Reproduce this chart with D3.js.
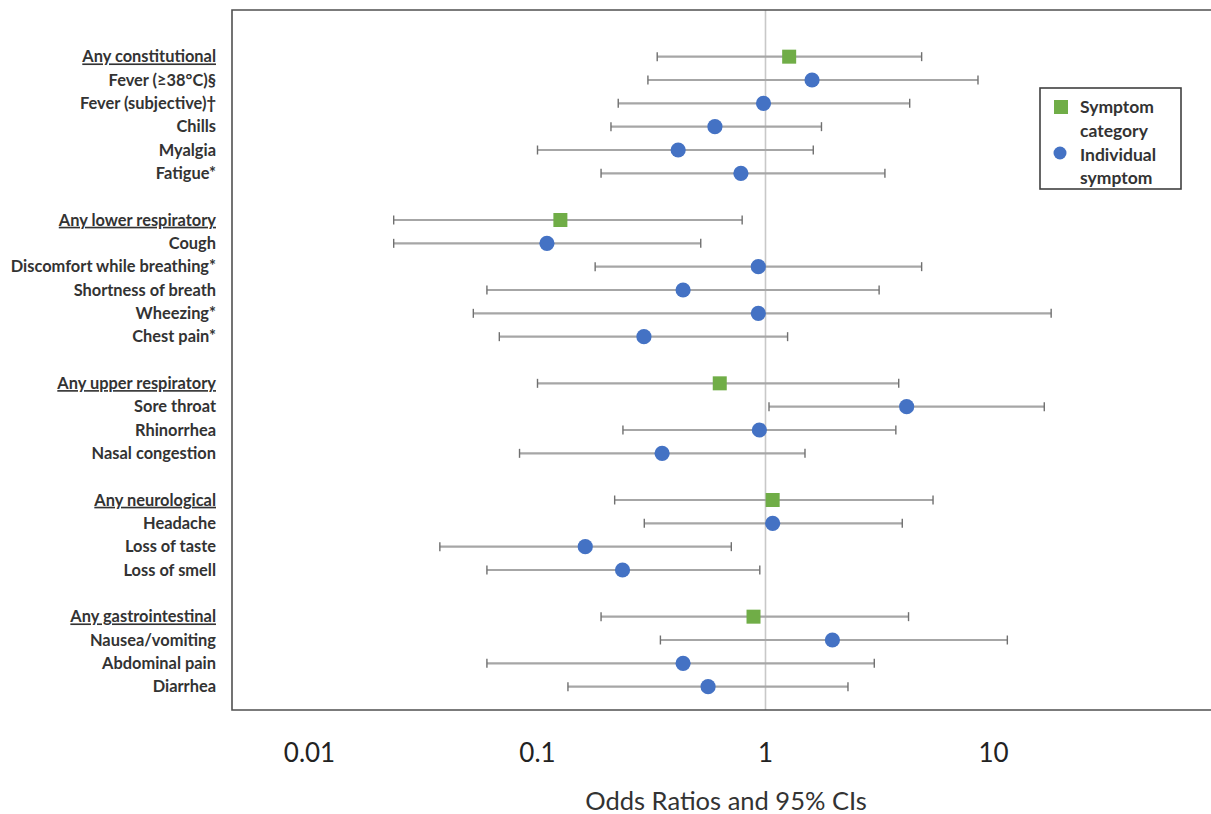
<!DOCTYPE html>
<html><head><meta charset="utf-8">
<script src="https://cdn.jsdelivr.net/npm/d3@7"></script>
<style>
body{margin:0;background:#fff;}
svg{display:block;}
</style></head>
<body>
<svg id="chart" width="1211" height="814"></svg>
<script>
// Data (null = spacer row)
const labels = ["Any constitutional","Fever (\u226538\u00b0C)\u00a7","Fever (subjective)\u2020","Chills","Myalgia","Fatigue*",null,
 "Any lower respiratory","Cough","Discomfort while breathing*","Shortness of breath","Wheezing*","Chest pain*",null,
 "Any upper respiratory","Sore throat","Rhinorrhea","Nasal congestion",null,
 "Any neurological","Headache","Loss of taste","Loss of smell",null,
 "Any gastrointestinal","Nausea/vomiting","Abdominal pain","Diarrhea"];
const isCategory = [1,0,0,0,0,0,null, 1,0,0,0,0,0,null, 1,0,0,0,null, 1,0,0,0,null, 1,0,0,0];
const oddsRatio = [1.27,1.60,0.98,0.60,0.414,0.78,null, 0.126,0.11,0.93,0.435,0.93,0.293,null, 0.63,4.16,0.94,0.352,null, 1.075,1.075,0.162,0.236,null, 0.886,1.965,0.435,0.56];
const ciLow = [0.335,0.305,0.226,0.21,0.100,0.19,null, 0.0234,0.0234,0.179,0.060,0.0523,0.068,null, 0.10,1.036,0.237,0.0834,null, 0.218,0.294,0.0373,0.060,null, 0.19,0.346,0.060,0.136];
const ciHigh = [4.84,8.55,4.29,1.76,1.62,3.34,null, 0.79,0.52,4.84,3.15,17.9,1.25,null, 3.84,16.7,3.73,1.49,null, 5.43,3.98,0.708,0.944,null, 4.24,11.5,3.0,2.30];
const tickValues = [0.01,0.1,1,10];
const tickLabels = ["0.01","0.1","1","10"];
const legendLabels = [["Symptom","category"],["Individual","symptom"]];
const axisTitle = "Odds Ratios and 95% CIs";

const svg = d3.select("#chart");
const plot = {left:232, top:10, right:1212, bottom:710};
const x = d3.scaleLog().domain([0.01,10]).range([309.5,993.5]);
const y = d3.scaleLinear().domain([-2,28]).range([plot.top, plot.bottom]);

const rows = labels.map((l,i)=>({label:l, cat:isCategory[i], or:oddsRatio[i], lo:ciLow[i], hi:ciHigh[i], i}));
const data = rows.filter(d=>d.label!==null);

const green = "#70AD47", blue = "#4472C4";
const font = "Lato, 'Open Sans', sans-serif";

// reference line at OR = 1
svg.append("line").attr("x1",x(1)).attr("x2",x(1)).attr("y1",plot.top).attr("y2",plot.bottom)
  .attr("stroke","#c8c8c8").attr("stroke-width",1.6);

// frame (left, top, bottom)
svg.append("path")
  .attr("d",`M${plot.right},${plot.top}H${plot.left}V${plot.bottom}H${plot.right}`)
  .attr("fill","none").attr("stroke","#505050").attr("stroke-width",1.6);

// error bars
const eb = svg.append("g");
eb.selectAll("line.ci").data(data).join("line").attr("class","ci")
  .attr("x1",d=>x(d.lo)).attr("x2",d=>x(d.hi)).attr("y1",d=>y(d.i)).attr("y2",d=>y(d.i))
  .attr("stroke","#a6a6a6").attr("stroke-width",2.2);
["lo","hi"].forEach(k=>{
  eb.selectAll("line.cap"+k).data(data).join("line").attr("class","cap"+k)
    .attr("x1",d=>x(d[k])).attr("x2",d=>x(d[k])).attr("y1",d=>y(d.i)-4.5).attr("y2",d=>y(d.i)+4.5)
    .attr("stroke","#707070").attr("stroke-width",1.4);
});

// markers
svg.selectAll("circle.pt").data(data.filter(d=>!d.cat)).join("circle").attr("class","pt")
  .attr("cx",d=>x(d.or)).attr("cy",d=>y(d.i)).attr("r",7.6).attr("fill",blue);
svg.selectAll("rect.pt").data(data.filter(d=>d.cat)).join("rect").attr("class","pt")
  .attr("x",d=>x(d.or)-7).attr("y",d=>y(d.i)-7).attr("width",14).attr("height",14).attr("fill",green);

// row labels
svg.selectAll("text.lab").data(data).join("text").attr("class","lab")
  .attr("x",216).attr("y",d=>y(d.i)).attr("dy","0.35em").attr("text-anchor","end")
  .attr("font-family",font).attr("font-weight","bold").attr("font-size",16.4)
  .attr("fill","#333").attr("text-decoration",d=>d.cat?"underline":null)
  .text(d=>d.label);

// x tick labels
svg.selectAll("text.tick").data(tickValues).join("text").attr("class","tick")
  .attr("x",d=>x(d)).attr("y",762).attr("text-anchor","middle")
  .attr("font-family",font).attr("font-size",26).attr("fill","#222")
  .text((d,i)=>tickLabels[i]);

// axis title
svg.append("text").attr("x",726).attr("y",810).attr("text-anchor","middle")
  .attr("font-family",font).attr("font-size",25.5).attr("fill","#333")
  .text(axisTitle);

// legend
const lg = svg.append("g");
lg.append("rect").attr("x",1040).attr("y",88).attr("width",141).attr("height",101)
  .attr("fill","#fff").attr("stroke","#404040").attr("stroke-width",1.6);
lg.append("rect").attr("x",1054).attr("y",100).attr("width",14).attr("height",14).attr("fill",green);
lg.append("circle").attr("cx",1060).attr("cy",153).attr("r",6.5).attr("fill",blue);
const lt = lg.append("text").attr("font-family",font).attr("font-weight","bold")
  .attr("font-size",17.5).attr("fill","#333");
[[legendLabels[0][0],113],[legendLabels[0][1],137],[legendLabels[1][0],161],[legendLabels[1][1],184]].forEach(([t,yy])=>{
  lt.append("tspan").attr("x",1080).attr("y",yy).text(t);
});
</script>
</body></html>
